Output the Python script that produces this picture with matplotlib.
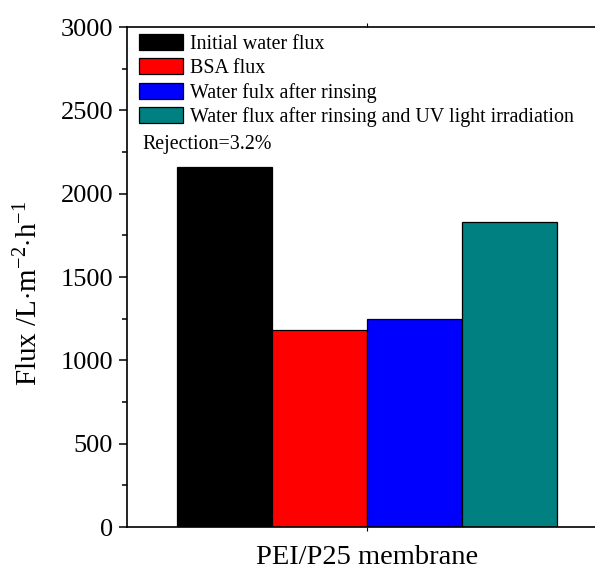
import matplotlib
matplotlib.use("Agg")
import matplotlib.pyplot as plt
from matplotlib.ticker import MultipleLocator

plt.rcParams['font.family'] = ['Liberation Serif', 'DejaVu Serif']
plt.rcParams['mathtext.fontset'] = 'custom'
plt.rcParams['mathtext.rm'] = 'Liberation Serif'
plt.rcParams['mathtext.it'] = 'Liberation Serif:italic'

# data
labels = ['Initial water flux', 'BSA flux', 'Water fulx after rinsing',
          'Water flux after rinsing and UV light irradiation']
values = [2163, 1184, 1248, 1830]
colors = ['#000000', '#ff0000', '#0000ff', '#008080']
group = 'PEI/P25 membrane'
note = 'Rejection=3.2%'

fig = plt.figure(figsize=(5.95, 5.69), dpi=100)
ax = fig.add_axes([127 / 595, 1 - 527 / 569, 480 / 595, 500 / 569])

w = 0.2
offsets = [(i - 1.5) * w for i in range(len(values))]
for x, v, c, lab in zip(offsets, values, colors, labels):
    ax.bar(x, v, width=w, color=c, edgecolor='black', linewidth=0.9, label=lab)

ax.set_xlim(-0.505, 0.505)
ax.set_ylim(0, 3000)
ax.set_xticks([0])
ax.set_xticklabels([''])
ax.yaxis.set_major_locator(MultipleLocator(500))
ax.yaxis.set_minor_locator(MultipleLocator(250))

ax.tick_params(axis='both', which='major', direction='out', length=6, width=1.1,
               labelsize=19, pad=4)
ax.tick_params(axis='y', which='minor', direction='out', length=3.5, width=1.1)
ax.tick_params(axis='x', top=True, length=3, width=0.8)
for s in ax.spines.values():
    s.set_linewidth(1.2)

ax.set_xlabel(group, fontsize=20.5, labelpad=6)
ax.set_ylabel(r'Flux /L$\cdot$m$^{-2}$$\cdot$h$^{-1}$', fontsize=21)
ax.yaxis.set_label_coords(-0.175, 0.468)

ax.legend(loc='upper left', bbox_to_anchor=(0.025, 0.986), frameon=False,
          fontsize=14.4, borderpad=0, borderaxespad=0, handlelength=2.2,
          handleheight=0.85, handletextpad=0.33, labelspacing=0.22)
ax.text(0.033, (527 - 144) / 500, note, transform=ax.transAxes, fontsize=14.4,
        va='center', ha='left')

fig.savefig('out.png', dpi=100)
